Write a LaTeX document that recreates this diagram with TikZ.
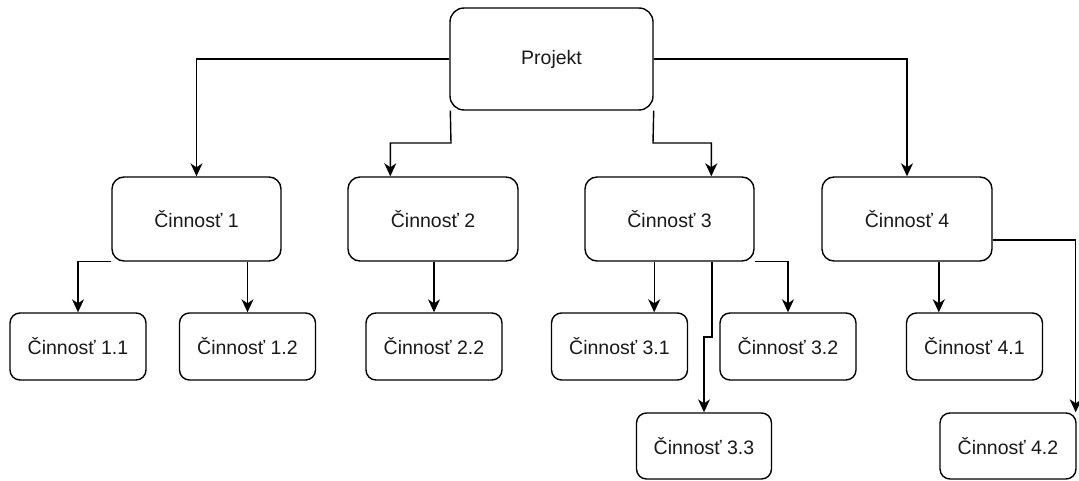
\documentclass[tikz,border=0pt]{standalone}
\usepackage{fontspec}
\setmainfont{Liberation Sans}
\usetikzlibrary{arrows.meta}

\tikzset{
  box/.style={draw=black, line width=1.4pt, rounded corners=#1, fill=white,
    font=\fontsize{19.5}{22}\selectfont, text=black!90, inner sep=0pt},
  box/.default=10pt,
  link/.style={draw=black, line width=1.4pt,
    -{Stealth[length=13pt, width=12pt, inset=4pt]}},
}

\begin{document}
\begin{tikzpicture}[x=1pt, y=-1pt]
  \useasboundingbox (0,0) rectangle (1079,481);

  % root
  \node[box=14pt, minimum width=203pt, minimum height=102pt] (p) at (551.5,59) {Projekt};

  % first level
  \node[box=12pt, minimum width=169pt, minimum height=84pt] (c1) at (196.5,219) {Činnosť 1};
  \node[box=12pt, minimum width=170pt, minimum height=84pt] (c2) at (433,219)   {Činnosť 2};
  \node[box=12pt, minimum width=169pt, minimum height=84pt] (c3) at (669.5,219) {Činnosť 3};
  \node[box=12pt, minimum width=170pt, minimum height=84pt] (c4) at (907,219)   {Činnosť 4};

  % second level
  \node[box, minimum width=136pt, minimum height=67pt] (c11) at (78,346.5)    {Činnosť 1.1};
  \node[box, minimum width=136pt, minimum height=67pt] (c12) at (247.5,346.5) {Činnosť 1.2};
  \node[box, minimum width=136pt, minimum height=67pt] (c22) at (434,346.5)   {Činnosť 2.2};
  \node[box, minimum width=136pt, minimum height=67pt] (c31) at (619.5,346.5) {Činnosť 3.1};
  \node[box, minimum width=136pt, minimum height=67pt] (c32) at (788,346.5)   {Činnosť 3.2};
  \node[box, minimum width=135pt, minimum height=66pt] (c33) at (704,446)     {Činnosť 3.3};
  \node[box, minimum width=136pt, minimum height=67pt] (c41) at (974.5,346.5) {Činnosť 4.1};
  \node[box, minimum width=136pt, minimum height=66pt] (c42) at (1008,446)    {Činnosť 4.2};

  % entry points on the first level
  \coordinate (c2in) at ([xshift=43pt]c2.north west);
  \coordinate (c3in) at ([xshift=127pt]c3.north west);
  \coordinate (pl) at (451,143);
  \coordinate (pr) at (653,143);

  % root to first level
  \draw[link] (p.west) -| (c1.north);
  \draw[link] (p.south west) ++(1pt,0) -- (pl) -| (c2in);
  \draw[link] (p.south east) -- (pr) -| (c3in);
  \draw[link] (p.east) -| (c4.north);

  % first level to second level
  \draw[link] (c1.south west) -| (c11.north);
  \draw[link] (c12.north |- c1.south) -- (c12.north);
  \draw[link] (c22.north |- c2.south) -- (c22.north);

  \coordinate (c31in) at ([xshift=-34pt]c31.north east);
  \draw[link] (c31in |- c3.south) -- (c31in);
  \draw[link] (c3.south east) -| (c32.north);
  \coordinate (c3b) at ([xshift=42.5pt]c3.south);
  \coordinate (c3k) at (712,337);
  \draw[link] (c3b) -- (c3k) -| (c33.north);

  \coordinate (c41in) at ([xshift=33pt]c41.north west);
  \draw[link] (c41in |- c4.south) -- (c41in);
  \coordinate (c4r) at ([yshift=-21pt]c4.east);
  \coordinate (c42in) at ([xshift=-1pt]c42.north east);
  \draw[link] (c4r) -| (c42in);
\end{tikzpicture}
\end{document}
